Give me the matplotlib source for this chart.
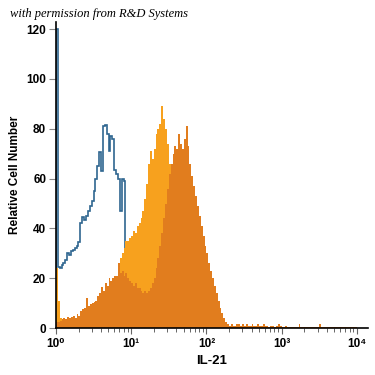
import numpy as np
import matplotlib
matplotlib.use('Agg')
from matplotlib import pyplot as plt

# channel width on the log10 axis (4 decades)
step = 0.025

# isotype control (blue outline), counts per channel from 10^0 upward
isotype = [120, 24.5, 24, 25.5, 26, 27.5, 30, 29.5, 31, 31.5,
           32, 33, 34.7, 42, 44.5, 43.5, 45, 47, 49, 51,
           55, 60, 65, 70.5, 63, 81, 81.5, 78, 71, 77,
           76, 63.5, 62, 60, 47, 60, 59, 22, 14, 9,
           5, 3, 1]

# first stained sample (light orange)
stain_a = [24, 11, 4, 3, 3, 3, 3.5, 3.5, 4, 4,
           3.5, 4, 4.5, 5, 6, 6.5, 8, 8, 8.5, 9,
           9.5, 10, 11, 12, 13, 13.5, 15, 15.5, 17, 17.5,
           18, 19, 20, 25, 28, 30, 32, 35, 35, 36,
           37, 39, 38, 41, 42, 44, 47, 52, 58, 66,
           71, 68, 72, 78, 80, 82, 89, 84, 80, 74,
           66, 58, 50, 44, 38, 33, 28, 24, 20, 17,
           14, 12, 10, 8, 6, 5, 4, 3, 2, 1.5,
           1]

# second stained sample (dark orange)
stain_b = [2.5, 2.5, 3, 3.5, 4, 3.5, 4.5, 4, 4.5, 5,
           4, 5.5, 5, 7, 7.5, 8, 12, 9, 9.5, 10,
           10.5, 11, 13, 14, 16.5, 15, 18, 17, 20, 19,
           20, 21, 21, 26, 22, 23, 21, 22, 20, 19,
           18, 17, 18, 16, 16, 15, 14, 15, 14, 15,
           16, 18, 20, 24, 28, 33, 38, 44, 50, 56,
           62, 66, 70, 73, 72, 78, 74, 72, 76, 81,
           73, 66, 61, 57, 53, 49, 45, 41, 37, 33,
           30, 26, 23, 20, 17, 14, 11, 8, 6, 4,
           2.5, 1.5,
           1, 1.5, 1, 1, 1.5, 1.5, 1, 1.5, 1, 1.5,
           1, 1, 1.5, 1, 1, 1.5, 1, 1, 1.5, 1,
           1, 0.5, 1, 1, 0.5, 1, 1.5, 1, 0.5, 0.5,
           1, 0.5,
           0.5, 0.5, 0.5, 0.5, 0.5, 1.5, 0.5, 0.5, 0.5, 0.5,
           0.5, 0.5, 0.5, 0.5, 0.5, 0.5, 1.5, 0.5, 0.5, 0.5,
           0.5, 0.5, 0.5, 0.5, 0.5, 0.5, 0.5, 0.5, 0.5, 0.5,
           0.5, 0.5, 0.5, 0.5, 0.5, 0.5]

y_ticks = [0, 20, 40, 60, 80, 100, 120]
x_ticks = [1, 10, 100, 1000, 10000]
x_ticklabels = ['10\u2070', '10\u00b9', '10\u00b2', '10\u00b3', '10\u2074']

blue = '#2f6690'
light_orange = '#F7A11E'
dark_orange = '#E17D1E'
sans = ['Liberation Sans', 'DejaVu Sans']


def edges_for(vals):
    return 10 ** (np.arange(len(vals) + 1) * step)


fig = plt.figure(figsize=(3.75, 3.75), dpi=100)
ax = fig.add_axes([0.149, 0.125, 0.832, 0.816])

ax.stairs(isotype, edges_for(isotype), color=blue, lw=1.2, baseline=0,
          zorder=1)
ax.stairs(stain_a, edges_for(stain_a), fill=True, color=light_orange,
          lw=0, zorder=1.5)
ax.stairs(stain_b, edges_for(stain_b), fill=True, color=dark_orange,
          lw=0, zorder=2)

ax.set_xscale('log')
ax.set_xlim(1, 10 ** 4.146)
ax.set_ylim(0, 122.8)

for s in ['top', 'right']:
    ax.spines[s].set_visible(False)
for s in ['left', 'bottom']:
    ax.spines[s].set_linewidth(1.2)
    ax.spines[s].set_zorder(3)

ax.set_yticks(y_ticks)
ax.set_yticklabels([str(t) for t in y_ticks], fontsize=8.5,
                   fontweight='bold', family=sans)
ax.set_xticks(x_ticks)
ax.set_xticklabels(x_ticklabels, fontsize=8.5, fontweight='bold',
                   family=sans)
ax.tick_params(axis='y', direction='out', length=5, width=0.8,
               color='#888888', pad=2)
ax.tick_params(axis='x', which='major', direction='out', length=4,
               width=0.8, color='#666666', pad=3)
ax.tick_params(axis='x', which='minor', direction='out', length=3,
               width=0.7, color='#666666')

ax.set_ylabel('Relative Cell Number', fontsize=8.5, fontweight='bold',
              family=sans, labelpad=4)
ax.set_xlabel('IL-21', fontsize=9.5, fontweight='bold',
              family=sans, labelpad=4)

fig.text(10 / 375, 1 - 17 / 375, 'with permission from R&D Systems',
         fontsize=9, style='italic', family=['Liberation Serif', 'DejaVu Serif'],
         va='baseline', ha='left')

fig.savefig('out.png', dpi=100)
